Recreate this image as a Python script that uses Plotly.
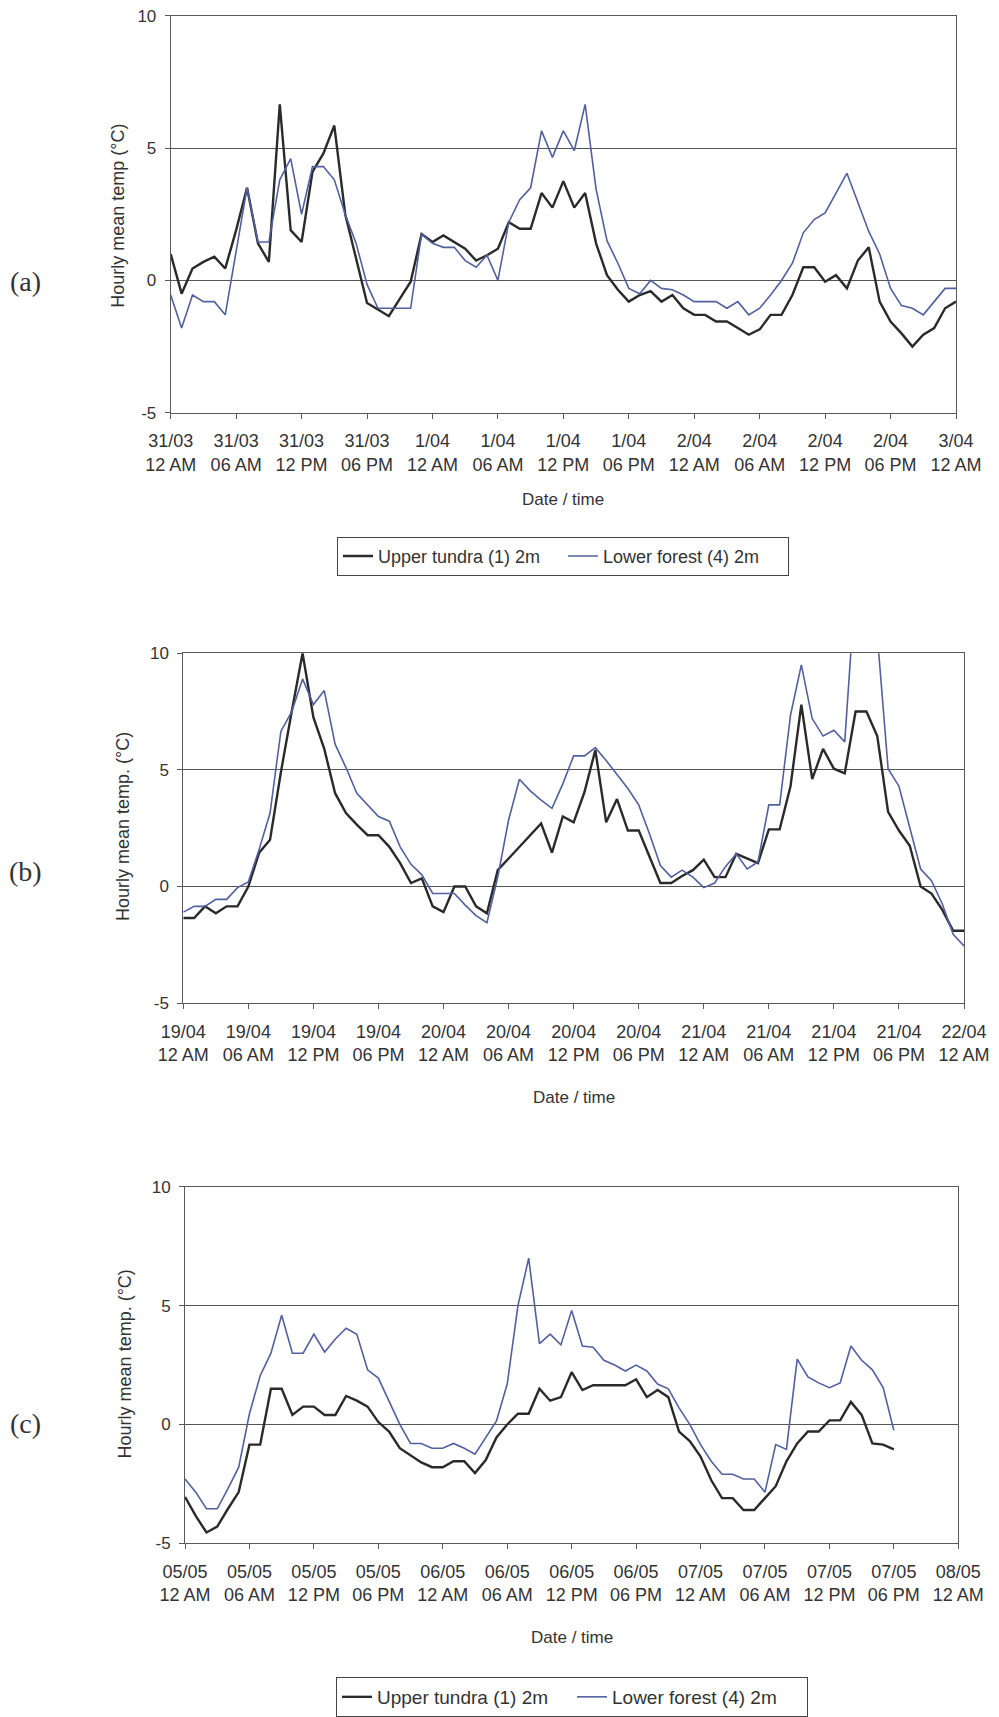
import plotly.graph_objects as go

W, H = 999, 1717

# ---------------- data ----------------
hours_a = list(range(73))
hours_b = list(range(73))
hours_c = list(range(67))

ticks_a = ["31/03<br>12 AM", "31/03<br>06 AM", "31/03<br>12 PM", "31/03<br>06 PM",
           "1/04<br>12 AM", "1/04<br>06 AM", "1/04<br>12 PM", "1/04<br>06 PM",
           "2/04<br>12 AM", "2/04<br>06 AM", "2/04<br>12 PM", "2/04<br>06 PM",
           "3/04<br>12 AM"]
ticks_b = ["19/04<br>12 AM", "19/04<br>06 AM", "19/04<br>12 PM", "19/04<br>06 PM",
           "20/04<br>12 AM", "20/04<br>06 AM", "20/04<br>12 PM", "20/04<br>06 PM",
           "21/04<br>12 AM", "21/04<br>06 AM", "21/04<br>12 PM", "21/04<br>06 PM",
           "22/04<br>12 AM"]
ticks_c = ["05/05<br>12 AM", "05/05<br>06 AM", "05/05<br>12 PM", "05/05<br>06 PM",
           "06/05<br>12 AM", "06/05<br>06 AM", "06/05<br>12 PM", "06/05<br>06 PM",
           "07/05<br>12 AM", "07/05<br>06 AM", "07/05<br>12 PM", "07/05<br>06 PM",
           "08/05<br>12 AM"]
tick_hours = list(range(0, 73, 6))

tundra_a = [1.0, -0.5, 0.45, 0.7, 0.9, 0.45, 1.9, 3.5, 1.4, 0.7,
            6.65, 1.9, 1.45, 4.1, 4.8, 5.85, 2.5, 0.8, -0.85, -1.1,
            -1.35, -0.7, -0.05, 1.75, 1.45, 1.7, 1.45, 1.2, 0.75, 0.95,
            1.2, 2.2, 1.95, 1.95, 3.3, 2.75, 3.75, 2.75, 3.3, 1.4,
            0.2, -0.35, -0.8, -0.55, -0.4, -0.8, -0.55, -1.05, -1.3, -1.3,
            -1.55, -1.55, -1.8, -2.05, -1.85, -1.3, -1.3, -0.55, 0.5, 0.5,
            -0.05, 0.2, -0.3, 0.75, 1.25, -0.8, -1.55, -2.0, -2.5, -2.05,
            -1.8, -1.05, -0.8]
forest_a = [-0.55, -1.8, -0.55, -0.8, -0.8, -1.3, 1.1, 3.5, 1.45, 1.45,
            3.8, 4.6, 2.5, 4.3, 4.3, 3.8, 2.5, 1.4, -0.15, -1.05,
            -1.05, -1.05, -1.05, 1.75, 1.4, 1.25, 1.25, 0.75, 0.5, 0.95,
            0.0, 2.2, 3.05, 3.5, 5.65, 4.65, 5.65, 4.9, 6.65, 3.45,
            1.5, 0.65, -0.3, -0.5, 0.0, -0.3, -0.35, -0.55, -0.8, -0.8,
            -0.8, -1.05, -0.8, -1.3, -1.05, -0.55, 0.0, 0.65, 1.8, 2.3,
            2.55, 3.3, 4.05, 2.95, 1.85, 1.0, -0.3, -0.95, -1.05, -1.3,
            -0.8, -0.3, -0.3]

tundra_b = [-1.35, -1.35, -0.85, -1.15, -0.85, -0.85, 0.0, 1.45, 2.0, 4.9,
            7.5, 10.0, 7.25, 5.9, 4.0, 3.15, 2.65, 2.2, 2.2, 1.7,
            1.0, 0.15, 0.35, -0.85, -1.1, 0.0, 0.0, -0.85, -1.15, 0.7,
            1.2, 1.7, 2.2, 2.7, 1.45, 3.0, 2.75, 4.05, 5.85, 2.75,
            3.75, 2.4, 2.4, 1.25, 0.15, 0.15, 0.45, 0.7, 1.15, 0.4,
            0.4, 1.4, 1.2, 1.0, 2.45, 2.45, 4.3, 7.8, 4.6, 5.9,
            5.05, 4.85, 7.5, 7.5, 6.45, 3.2, 2.4, 1.75, 0.0, -0.3,
            -1.0, -1.9, -1.9]
forest_b = [-1.1, -0.85, -0.85, -0.55, -0.55, -0.05, 0.2, 1.6, 3.15, 6.65,
            7.5, 8.9, 7.8, 8.4, 6.1, 5.1, 4.0, 3.5, 3.0, 2.8,
            1.7, 0.95, 0.5, -0.3, -0.3, -0.3, -0.8, -1.25, -1.55, 0.4,
            2.85, 4.6, 4.1, 3.7, 3.35, 4.4, 5.6, 5.6, 5.95, 5.4,
            4.8, 4.2, 3.5, 2.25, 0.9, 0.4, 0.7, 0.4, -0.05, 0.15,
            0.85, 1.4, 0.75, 1.05, 3.5, 3.5, 7.35, 9.5, 7.2, 6.45,
            6.7, 6.2, 13.0, 13.0, 10.8, 5.05, 4.3, 2.55, 0.75, 0.25,
            -0.75, -2.05, -2.55]

tundra_c = [-3.05, -3.85, -4.55, -4.3, -3.55, -2.85, -0.85, -0.85, 1.5, 1.5,
            0.4, 0.75, 0.75, 0.4, 0.4, 1.2, 1.0, 0.75, 0.1, -0.3,
            -1.0, -1.3, -1.6, -1.8, -1.8, -1.55, -1.55, -2.05, -1.5, -0.55,
            0.0, 0.45, 0.45, 1.5, 1.0, 1.15, 2.2, 1.45, 1.65, 1.65,
            1.65, 1.65, 1.9, 1.15, 1.45, 1.15, -0.3, -0.7, -1.35, -2.35,
            -3.1, -3.1, -3.6, -3.6, -3.1, -2.6, -1.55, -0.8, -0.3, -0.3,
            0.17, 0.17, 0.95, 0.4, -0.8, -0.85, -1.05]
forest_c = [-2.3, -2.85, -3.55, -3.55, -2.7, -1.8, 0.45, 2.05, 3.0, 4.6,
            3.0, 3.0, 3.8, 3.05, 3.6, 4.05, 3.8, 2.3, 1.95, 1.0,
            0.0, -0.8, -0.8, -1.0, -1.0, -0.8, -1.0, -1.25, -0.55, 0.15,
            1.7, 5.0, 7.0, 3.4, 3.8, 3.35, 4.8, 3.3, 3.25, 2.7,
            2.5, 2.25, 2.5, 2.25, 1.7, 1.5, 0.7, 0.0, -0.85, -1.55,
            -2.1, -2.1, -2.3, -2.3, -2.85, -0.85, -1.05, 2.75, 2.0, 1.75,
            1.55, 1.75, 3.3, 2.7, 2.3, 1.55, -0.25]

y_ticks = [-5, 0, 5, 10]
y_ticktext = ["-5", "0", "5", "10"]
name_tundra = "Upper tundra (1) 2m"
name_forest = "Lower forest (4) 2m"

# ---------------- styling ----------------
BLACK = "#2a2a2a"
BLUE = "#52609e"
AXIS = "#5a5a5a"
TEXT = "#333333"
FONT = "Liberation Sans, Arial, sans-serif"

def px_x(p):
    return p / W

def px_y(p):
    return 1 - p / H

# panel pixel boxes: (left, right, top, bottom)
boxes = [(170.7, 956.0, 15.7, 413.3),
         (183.3, 964.0, 654.0, 1004.3),
         (185.0, 958.3, 1188.3, 1545.0)]

fig = go.Figure()

series = [(hours_a, tundra_a, forest_a, "legend", True),
          (hours_b, tundra_b, forest_b, "legend", False),
          (hours_c, tundra_c, forest_c, "legend2", True)]

for i, (hx, t, f, leg, show) in enumerate(series):
    xa = "x" if i == 0 else f"x{i+1}"
    ya = "y" if i == 0 else f"y{i+1}"
    fig.add_trace(go.Scatter(x=hx, y=t, mode="lines", name=name_tundra,
                             line=dict(color=BLACK, width=2.4),
                             xaxis=xa, yaxis=ya, legend=leg, showlegend=show))
    fig.add_trace(go.Scatter(x=hx, y=f, mode="lines", name=name_forest,
                             line=dict(color=BLUE, width=1.6),
                             xaxis=xa, yaxis=ya, legend=leg, showlegend=show))

tick_sets = [ticks_a, ticks_b, ticks_c]
layout = {}
for i, (l, r, t, b) in enumerate(boxes):
    xk = "xaxis" if i == 0 else f"xaxis{i+1}"
    yk = "yaxis" if i == 0 else f"yaxis{i+1}"
    yref = "y" if i == 0 else f"y{i+1}"
    xref = "x" if i == 0 else f"x{i+1}"
    layout[xk] = dict(domain=[px_x(l), px_x(r)], range=[0, 72], anchor=yref,
                      tickmode="array", tickvals=tick_hours, ticktext=tick_sets[i],
                      ticks="outside", ticklen=5, tickcolor=AXIS, tickwidth=1,
                      ticklabelstandoff=7,
                      showline=True, linecolor=AXIS, linewidth=1, mirror=True,
                      showgrid=False, zeroline=False, automargin=False,
                      tickfont=dict(family=FONT, size=18, color=TEXT))
    layout[yk] = dict(domain=[px_y(b), px_y(t)], range=[-5, 10], anchor=xref,
                      tickmode="array", tickvals=y_ticks, ticktext=y_ticktext,
                      ticks="outside", ticklen=5, tickcolor=AXIS, tickwidth=1,
                      ticklabelstandoff=5,
                      showline=True, linecolor=AXIS, linewidth=1, mirror=True,
                      showgrid=True, gridcolor="#555555", gridwidth=1,
                      zeroline=False, automargin=False,
                      tickfont=dict(family=FONT, size=17, color=TEXT))

annotations = []
# y-axis titles
ytitles = [("Hourly mean temp (°C)", 118, 216),
           ("Hourly mean temp. (°C)", 123, 828),
           ("Hourly mean temp. (°C)", 125, 1366)]
for txt, cx, cy in ytitles:
    annotations.append(dict(text=txt, x=px_x(cx), y=px_y(cy), xref="paper", yref="paper",
                            showarrow=False, textangle=-90, xanchor="center", yanchor="middle",
                            font=dict(family=FONT, size=18, color=TEXT)))
# x-axis titles
for cx, cy in [(563, 500), (574, 1099), (572, 1639)]:
    annotations.append(dict(text="Date / time", x=px_x(cx), y=px_y(cy), xref="paper", yref="paper",
                            showarrow=False, xanchor="center", yanchor="middle",
                            font=dict(family=FONT, size=17, color=TEXT)))
# panel letters
for txt, cx, cy in [("(a)", 25, 282), ("(b)", 25, 873), ("(c)", 25, 1425)]:
    annotations.append(dict(text=txt, x=px_x(cx), y=px_y(cy), xref="paper", yref="paper",
                            showarrow=False, xanchor="center", yanchor="middle",
                            font=dict(family="Liberation Serif, Times New Roman, serif",
                                      size=28, color=TEXT)))

fig.update_layout(
    width=W, height=H,
    margin=dict(l=0, r=0, t=0, b=0),
    paper_bgcolor="white", plot_bgcolor="white",
    annotations=annotations,
    legend=dict(orientation="h", x=px_x(563), y=px_y(557), xanchor="center", yanchor="middle",
                bgcolor="white", bordercolor="#444444", borderwidth=1,
                font=dict(family=FONT, size=18, color=TEXT), itemwidth=30,
                entrywidth=180, entrywidthmode="pixels"),
    legend2=dict(orientation="h", x=px_x(572), y=px_y(1699), xanchor="center", yanchor="middle",
                 bgcolor="white", bordercolor="#444444", borderwidth=1,
                 font=dict(family=FONT, size=19, color=TEXT), itemwidth=30,
                 entrywidth=190, entrywidthmode="pixels"),
    **layout,
)

fig.write_html("out.html", config={"displayModeBar": False},
               post_script="document.body.style.margin='0px';document.body.style.overflow='hidden';")
